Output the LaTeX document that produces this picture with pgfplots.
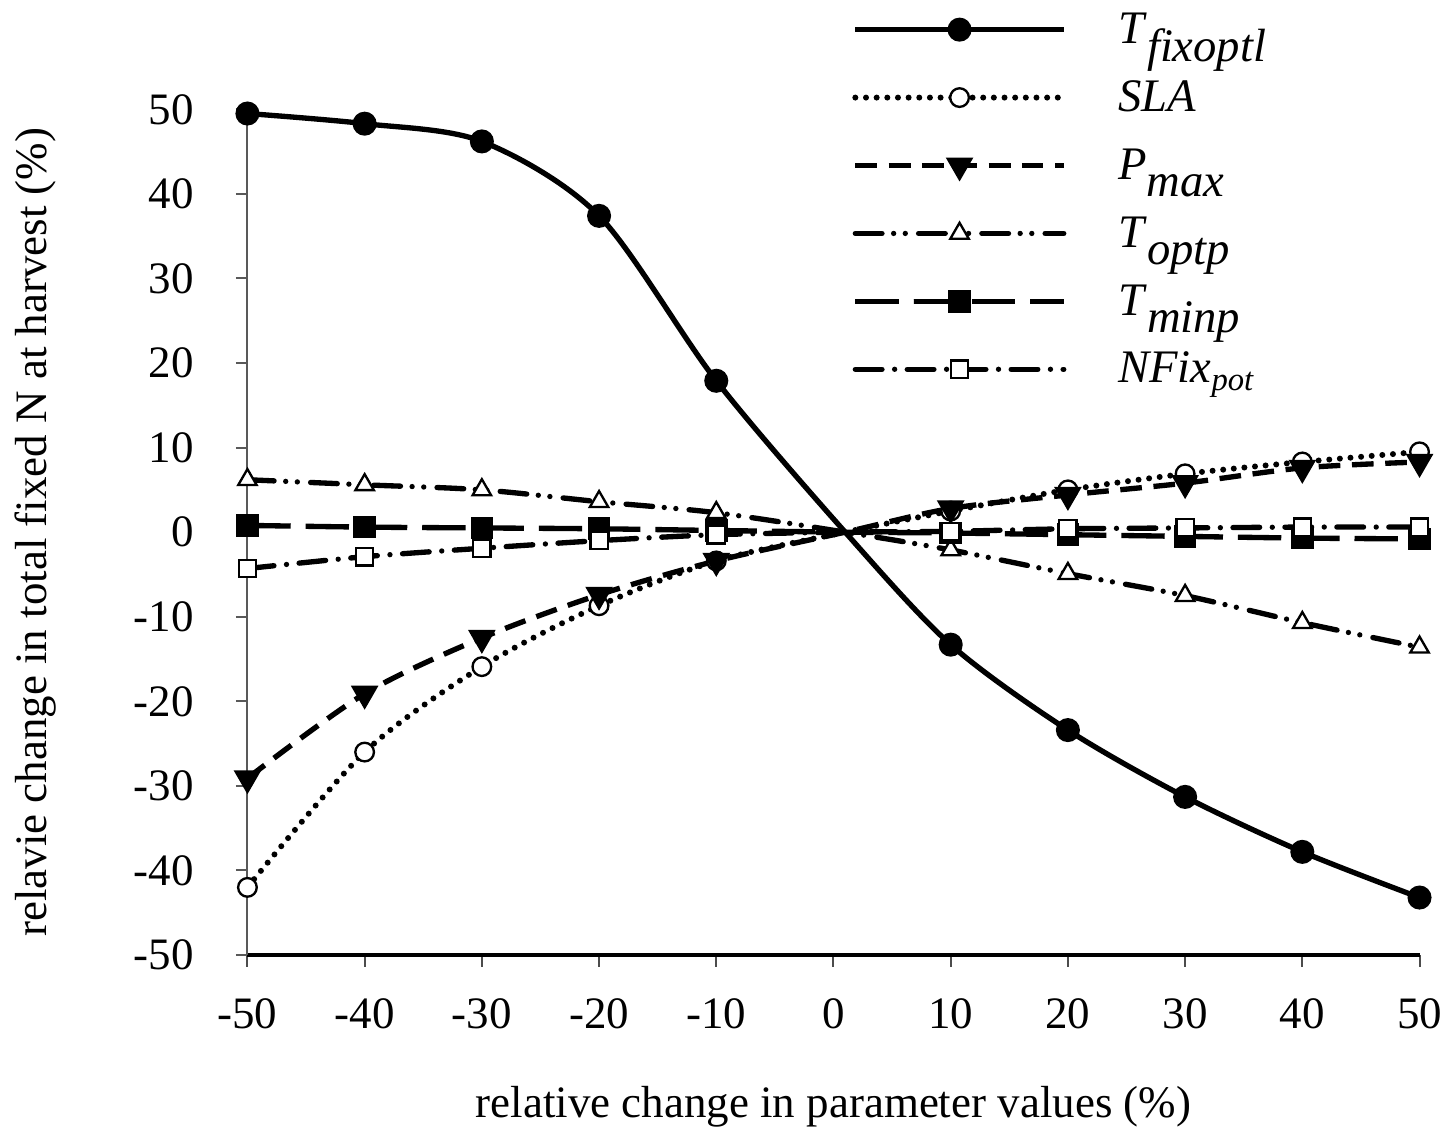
\documentclass[border=0pt]{standalone}
\usepackage{pgfplots}
\pgfplotsset{compat=1.18}
\usepackage{fontspec}
\setmainfont{Liberation Serif}
\newcommand{\lsub}[1]{\raisebox{-0.38em}{\textit{#1}}}
\begin{document}
\fontsize{13.5}{16}\selectfont
\begin{tikzpicture}
\begin{axis}[
  scale only axis,
  width=352pt, height=254pt,
  xmin=-50, xmax=50, ymin=-50, ymax=50,
  xtick={-50,-40,...,50}, ytick={-50,-40,...,50},
  axis x line=bottom, axis y line=left,
  x axis line style={-, line width=1.4pt, black},
  y axis line style={-, line width=0.6pt, black!65},
  tick align=outside,
  major tick length=3.5pt,
  x tick style={line width=0.6pt, black!70},
  y tick style={line width=0.6pt, black!65},
  /pgf/number format/assume math mode=true,
  ticklabel style={font=\fontsize{13.5}{16}\selectfont},
  xticklabel style={yshift=-5pt, inner xsep=0pt},
  yticklabel style={xshift=-8pt},
  xlabel={relative change in parameter values (\%)},
  ylabel={relavie change in total fixed N at harvest (\%)},
  label style={font=\fontsize{13.5}{16}\selectfont},
  xlabel style={yshift=-8pt},
  ylabel style={yshift=14pt},
  clip=false,
  mark indices={1,2,3,4,5,7,8,9,10,11},
  legend cell align=left,
  legend image code/.code={\draw[mark indices={2},yshift=3.3pt] plot coordinates {(0cm,0cm) (1.1cm,0cm) (2.2cm,0cm)};},
  legend style={at={(0.507,1.13)}, anchor=north west, draw=none, fill=none,
    font=\fontsize{14}{16}\selectfont,
    nodes={text height=11pt, text depth=9.4pt, inner ysep=0pt, inner xsep=2pt},
    /tikz/every odd column/.append style={column sep=13.5pt}},
]
% Tfixoptl
\addplot[black, line width=1.6pt, smooth, tension=0.5, mark=*, mark size=2.8pt, mark options={solid, fill=black}]
coordinates {(-50,49.5) (-40,48.3) (-30,46.2) (-20,37.4) (-10,17.9) (1,0) (10,-13.3) (20,-23.4) (30,-31.3) (40,-37.8) (50,-43.2)};
\addlegendentry{\textit{T}\lsub{fixoptl}}
% SLA
\addplot[black, line width=1.8pt, line cap=round, dash pattern=on 0pt off 3.2pt, smooth, tension=0.5, mark=*, mark size=2.8pt, mark options={solid, fill=white, draw=black, line width=0.7pt}]
coordinates {(-50,-42.0) (-40,-26.0) (-30,-15.9) (-20,-8.7) (-10,-3.4) (1,0) (10,2.5) (20,5.0) (30,6.9) (40,8.3) (50,9.5)};
\addlegendentry{\textit{SLA}}
% Pmax
\addplot[black, line width=1.6pt, dash pattern=on 6.5pt off 3.5pt, smooth, tension=0.5, mark=triangle*, mark size=3.2pt, mark options={solid, fill=black, rotate=180}]
coordinates {(-50,-29.1) (-40,-19.1) (-30,-12.5) (-20,-7.4) (-10,-3.4) (1,0) (10,2.8) (20,4.4) (30,5.8) (40,7.6) (50,8.3)};
\addlegendentry{\textit{P}\lsub{max}}
% Toptp
\addplot[black, line width=1.6pt, line cap=round, dash pattern=on 8pt off 3.5pt on 0pt off 3.5pt on 0pt off 4pt, smooth, tension=0.5, mark=triangle*, mark size=3.2pt, mark options={solid, fill=white, draw=black, line width=0.7pt}]
coordinates {(-50,6.2) (-40,5.6) (-30,5.0) (-20,3.6) (-10,2.3) (1,0) (10,-2.1) (20,-4.9) (30,-7.5) (40,-10.7) (50,-13.6)};
\addlegendentry{\textit{T}\lsub{optp}}
% Tminp
\addplot[black, line width=1.6pt, dash pattern=on 13pt off 4.5pt, smooth, tension=0.5, mark=square*, mark size=2.6pt, mark options={solid, fill=black}]
coordinates {(-50,0.8) (-40,0.6) (-30,0.5) (-20,0.4) (-10,0.2) (1,0) (10,-0.1) (20,-0.3) (30,-0.5) (40,-0.7) (50,-0.8)};
\addlegendentry{\textit{T}\lsub{minp}}
% NFixpot
\addplot[black, line width=1.6pt, line cap=round, dash pattern=on 8pt off 3.8pt on 0pt off 3.8pt, smooth, tension=0.5, mark=square*, mark size=2.6pt, mark options={solid, fill=white, draw=black, line width=0.7pt}]
coordinates {(-50,-4.3) (-40,-2.9) (-30,-1.9) (-20,-1.0) (-10,-0.3) (1,0) (10,0.1) (20,0.4) (30,0.5) (40,0.6) (50,0.6)};
\addlegendentry{\textit{NFix}\textsubscript{\textit{pot}}}
\end{axis}
\end{tikzpicture}
\end{document}
